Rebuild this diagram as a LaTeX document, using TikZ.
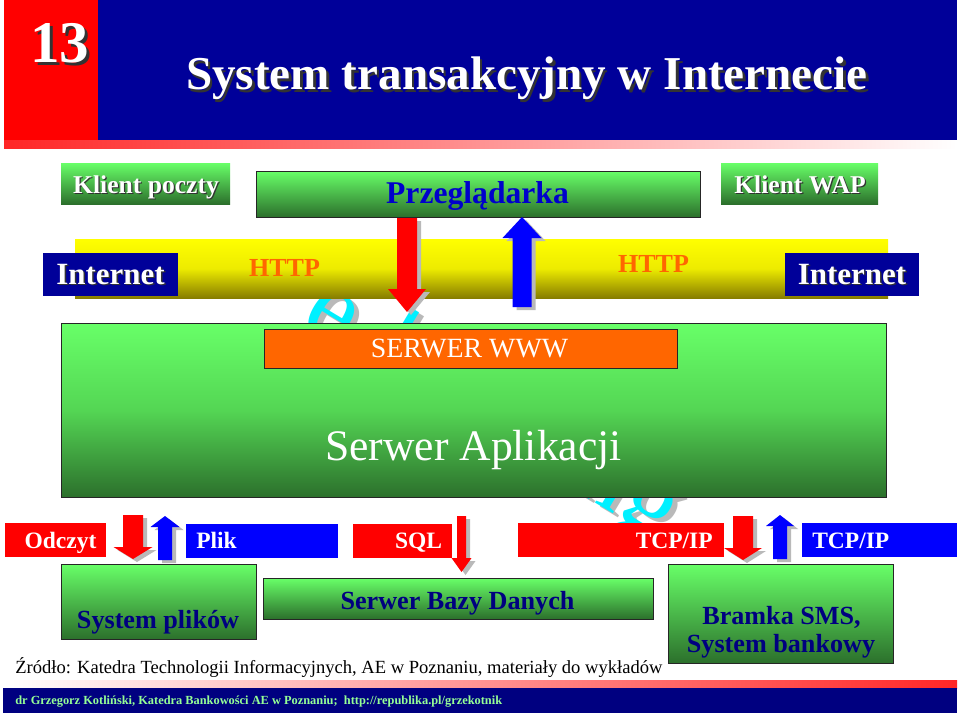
\documentclass[tikz,border=0pt]{standalone}
\usepackage{fontspec}
\setmainfont{Liberation Serif}
\usetikzlibrary{positioning}

\definecolor{bannerblue}{RGB}{0,0,153}
\definecolor{footnavy}{RGB}{0,0,128}
\definecolor{numred}{RGB}{255,0,0}
\definecolor{barblue}{RGB}{0,0,255}
\definecolor{gtop}{RGB}{104,255,104}
\definecolor{gmid}{RGB}{84,214,84}
\definecolor{gbot}{RGB}{44,112,44}
\definecolor{ytop}{RGB}{255,255,0}
\definecolor{ybot}{RGB}{135,125,0}
\definecolor{wwworange}{RGB}{255,102,0}
\definecolor{textnavy}{RGB}{0,0,128}
\definecolor{browserblue}{RGB}{0,0,204}
\definecolor{footgreen}{RGB}{150,255,150}
\definecolor{logocyan}{RGB}{0,240,255}

% one pixel of the slide
\newlength{\pxu}
\setlength{\pxu}{0.025cm}
\newcommand{\fsz}[1]{\fontsize{#1}{#1}\selectfont}
% white text with a dark shadow
\newcommand{\shtxt}[1]{\rlap{\kern0.05em\raisebox{-0.05em}{\color{black!80}#1}}#1}
% block arrow: colour, x centre, tail y, head base y, tip y, shaft half width, head half width
\newcommand{\blockpath}[6]{(#1-#5,#2) -- (#1+#5,#2) -- (#1+#5,#3) -- (#1+#6,#3) -- (#1,#4) -- (#1-#6,#3) -- (#1-#5,#3) -- cycle}
\newcommand{\blockarrow}[7]{%
    \fill[gray!55, shift={(4,3)}] \blockpath{#2}{#3}{#4}{#5}{#6}{#7};
    \fill[#1] \blockpath{#2}{#3}{#4}{#5}{#6}{#7};}

\tikzset{
    % Boxes
    flatbox/.style={
        rectangle,
        inner sep=0pt,
        draw=none
    },
    gbox/.style={
        rectangle,
        inner sep=0pt,
        top color=gtop,
        bottom color=gbot,
        draw=black!85,
        line width=0.6pt
    },
    fadebar/.style={
        rectangle,
        inner sep=0pt,
        draw=none
    },
    % Texts
    wtxt/.style={
        text=white,
        inner sep=0pt,
        anchor=base
    },
    navytxt/.style={
        text=textnavy,
        inner sep=0pt,
        anchor=base,
        font=\bfseries\fsz{18.6}
    },
    logo/.style={
        rotate=-31,
        inner sep=0pt,
        font=\fsz{75}
    }
}

\begin{document}
\begin{tikzpicture}[x=0.025cm, y=-0.025cm]
    \useasboundingbox (0,0) rectangle (960,716);
    \fill[white] (0,0) rectangle (960,716);

    % Watermark behind everything
    \node[logo, text=gray!55] (logoshade) at (497,416) {e-banking};
    \node[logo, text=logocyan] (logotext) at (492,412) {e-banking};

    % Title banner
    \node[flatbox, fill=numred, minimum width=94\pxu, minimum height=140\pxu] (numbox) at (51,70) {};
    \node[flatbox, fill=bannerblue, minimum width=859\pxu, minimum height=140\pxu] (titlebox) at (527.5,70) {};
    \node[fadebar, left color=numred!85, right color=white, minimum width=953\pxu, minimum height=8\pxu] (topstrip) at (480.5,144) {};
    \node[wtxt, font=\bfseries\fsz{42}] (num) at (60,63) {\shtxt{13}};
    \node[wtxt, font=\bfseries\fsz{33.5}] (title) at (527,90) {\shtxt{System transakcyjny w Internecie}};

    % Clients
    \node[gbox, draw=none, minimum width=169\pxu, minimum height=41\pxu] (poczta) at (145.5,183.5) {};
    \node[wtxt, font=\bfseries\fsz{18.2}] (pocztatxt) at (146,193) {\shtxt{Klient poczty}};
    \node[gbox, minimum width=444\pxu, minimum height=46\pxu] (przegl) at (478,194) {};
    \node[wtxt, text=browserblue, font=\bfseries\fsz{22.5}] (przegltxt) at (477.5,203) {Przeglądarka};
    \node[gbox, draw=none, minimum width=157\pxu, minimum height=41\pxu] (wap) at (799.5,183.5) {};
    \node[wtxt, font=\bfseries\fsz{18.2}] (waptxt) at (800,193) {\shtxt{Klient WAP}};

    % Internet band
    \node[flatbox, top color=ytop, bottom color=ybot, middle color=ytop!85!ybot, minimum width=813\pxu, minimum height=59\pxu] (band) at (481.5,268.5) {};
    \node[flatbox, fill=bannerblue, minimum width=135\pxu, minimum height=43\pxu] (inetL) at (110.5,274.5) {};
    \node[wtxt, font=\bfseries\fsz{22}] (inetLtxt) at (110.5,284) {\shtxt{Internet}};
    \node[flatbox, fill=bannerblue, minimum width=134\pxu, minimum height=43\pxu] (inetR) at (852,274.5) {};
    \node[wtxt, font=\bfseries\fsz{22}] (inetRtxt) at (852,284) {\shtxt{Internet}};
    \node[wtxt, text=wwworange, font=\bfseries\fsz{18.5}] (httpL) at (284.5,276) {HTTP};
    \node[wtxt, text=wwworange, font=\bfseries\fsz{18.5}] (httpR) at (653.5,272) {HTTP};

    % Request and answer
    \blockarrow{numred}{407}{218}{289}{312}{10}{19}
    \blockarrow{barblue}{522}{307}{238}{217}{9.5}{19.5}

    % Application server
    \node[gbox, middle color=gmid, minimum width=825\pxu, minimum height=174\pxu] (app) at (473.5,410) {};
    \node[flatbox, fill=wwworange, draw=black!85, line width=0.6pt, minimum width=413\pxu, minimum height=39\pxu] (www) at (470.5,349) {};
    \node[wtxt, font=\fsz{19.8}] (wwwtxt) at (469.5,357) {SERWER WWW};
    \node[wtxt, font=\fsz{31}] (apptxt) at (473.5,460) {Serwer Aplikacji};

    % Protocol bars
    \node[flatbox, fill=numred, minimum width=101\pxu, minimum height=34\pxu] (odczyt) at (55.5,540) {};
    \node[wtxt, font=\bfseries\fsz{16.7}] (odczyttxt) at (60.5,548) {Odczyt};
    \blockarrow{numred}{133}{515}{547}{559}{10}{19.5}
    \blockarrow{barblue}{165}{560}{527}{516}{7}{14.5}
    \node[flatbox, fill=barblue, minimum width=152\pxu, minimum height=34\pxu] (plik) at (262,541) {};
    \node[wtxt, anchor=base west, font=\bfseries\fsz{16.7}] (pliktxt) at (196,548) {Plik};
    \node[flatbox, fill=numred, minimum width=99\pxu, minimum height=34\pxu] (sql) at (402.5,541) {};
    \node[wtxt, font=\bfseries\fsz{16.7}] (sqltxt) at (418.5,548) {SQL};
    \blockarrow{numred}{461.5}{516}{558}{572}{4.5}{10}
    \node[flatbox, fill=numred, minimum width=206\pxu, minimum height=34\pxu] (tcpR) at (621,540) {};
    \node[wtxt, anchor=base east, font=\bfseries\fsz{16.7}] (tcpRtxt) at (713,548) {TCP/IP};
    \blockarrow{numred}{743}{516}{548}{560}{10}{19}
    \blockarrow{barblue}{780}{559}{526}{515}{7}{14}
    \node[flatbox, fill=barblue, minimum width=155\pxu, minimum height=34\pxu] (tcpB) at (879.5,540) {};
    \node[wtxt, anchor=base west, font=\bfseries\fsz{16.7}] (tcpBtxt) at (812,548) {TCP/IP};

    % Back-end systems
    \node[gbox, minimum width=195\pxu, minimum height=75\pxu] (pliki) at (158.5,601.5) {};
    \node[navytxt] (plikitxt) at (158,628) {System plików};
    \node[gbox, minimum width=390\pxu, minimum height=41\pxu] (baza) at (458,598.5) {};
    \node[navytxt] (bazatxt) at (457.5,609) {Serwer Bazy Danych};
    \node[gbox, minimum width=225\pxu, minimum height=99\pxu] (bramka) at (780.5,613.5) {};
    \node[navytxt] (bramkatxt) at (781.5,624) {Bramka SMS,};
    \node[navytxt] (banktxt) at (781,652) {System bankowy};

    % Source
    \node[inner sep=0pt, anchor=base west, font=\fsz{13.2}] (zrodlo) at (15,673) {Źródło: Katedra Technologii Informacyjnych, AE w Poznaniu, materiały do wykładów};

    % Footer
    \node[fadebar, left color=white, right color=numred!85, minimum width=954\pxu, minimum height=8\pxu] (botstrip) at (480,684) {};
    \node[flatbox, fill=footnavy, minimum width=954\pxu, minimum height=25\pxu] (footer) at (480,700.5) {};
    \node[wtxt, anchor=base west, text=footgreen, font=\bfseries\fsz{8.8}] (foottxt) at (15,704) {dr Grzegorz Kotliński, Katedra Bankowości AE w Poznaniu;\ \ http://republika.pl/grzekotnik};

\end{tikzpicture}
\end{document}
